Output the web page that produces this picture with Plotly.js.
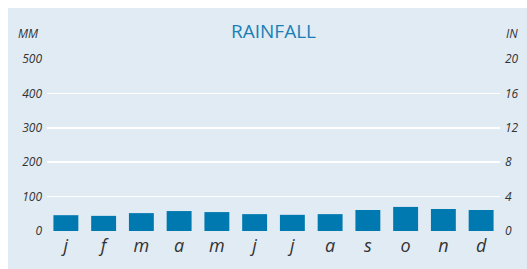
<!DOCTYPE html>
<html>
<head>
<meta charset="utf-8">
<script src="https://cdn.plot.ly/plotly-3.0.1.min.js"></script>
<style>
html,body{margin:0;padding:0;background:#ffffff;}
#chart{width:527px;height:269px;}
</style>
</head>
<body>
<div id="chart"></div>
<script>
const months = ['j','f','m','a','m ','j ','j  ','a ','s','o','n','d'];
const monthLabels = ['j','f','m','a','m','j','j','a','s','o','n','d'];
const rainfallMM = [46, 44, 52, 58, 55, 49, 47, 49, 61, 70, 64, 61];
const mmTicks = [0, 100, 200, 300, 400, 500];
const inTicks = [0, 4, 8, 12, 16, 20];

const L = 47, R = 500, T = 59, B = 231, W = 527, H = 269;
const px = v => (v - L) / (R - L);
const py = v => (B - v) / (B - T);

const trace = {
  type: 'bar',
  x: months,
  y: rainfallMM,
  marker: {color: '#0079b0'},
  hoverinfo: 'skip'
};
const dummy = {
  type: 'bar', x: [months[0]], y: [0], yaxis: 'y2',
  marker: {opacity: 0}, hoverinfo: 'skip', showlegend: false
};

const tickFont = {family: 'Open Sans, sans-serif', size: 12, color: '#333333', style: 'italic'};

const layout = {
  width: W, height: H,
  margin: {l: L, r: W - R, t: T, b: H - B, pad: 0},
  paper_bgcolor: '#ffffff',
  plot_bgcolor: 'rgba(0,0,0,0)',
  showlegend: false,
  barmode: 'overlay',
  bargap: 0.34,
  font: {family: 'Open Sans, sans-serif'},
  xaxis: {
    type: 'category', range: [-0.5, 11.5],
    tickvals: months, ticktext: monthLabels,
    showgrid: false, zeroline: false, showline: false, ticks: '',
    tickfont: {family: 'Open Sans, sans-serif', size: 18, color: '#333333', style: 'italic'},
    ticklabelstandoff: 2, fixedrange: true
  },
  yaxis: {
    range: [0, 500], tickvals: mmTicks,
    showgrid: true, gridcolor: '#ffffff', gridwidth: 1.5,
    zeroline: false, showline: false, ticks: '',
    tickfont: tickFont, ticklabelstandoff: 4, fixedrange: true
  },
  yaxis2: {
    overlaying: 'y', side: 'right', range: [0, 20], tickvals: inTicks,
    showgrid: false, zeroline: false, showline: false, ticks: '',
    tickfont: tickFont, ticklabelstandoff: 4, fixedrange: true
  },
  shapes: [{
    type: 'rect', xref: 'paper', yref: 'paper', layer: 'below',
    x0: px(8), x1: px(W + 2), y0: py(H + 2), y1: py(8),
    fillcolor: '#e1ebf4', line: {width: 0}
  }],
  annotations: [
    {text: 'RAINFALL', xref: 'paper', yref: 'paper', x: px(273), y: py(31),
     xanchor: 'center', yanchor: 'middle', showarrow: false,
     font: {family: 'Open Sans, sans-serif', size: 19, color: '#1a7fb6'}},
    {text: 'MM', xref: 'paper', yref: 'paper', x: px(41), y: py(34),
     xanchor: 'right', yanchor: 'middle', showarrow: false, font: tickFont},
    {text: 'IN', xref: 'paper', yref: 'paper', x: px(504), y: py(34),
     xanchor: 'left', yanchor: 'middle', showarrow: false, font: tickFont}
  ]
};

Plotly.newPlot('chart', [trace, dummy], layout, {displayModeBar: false, staticPlot: true});
</script>
</body>
</html>
